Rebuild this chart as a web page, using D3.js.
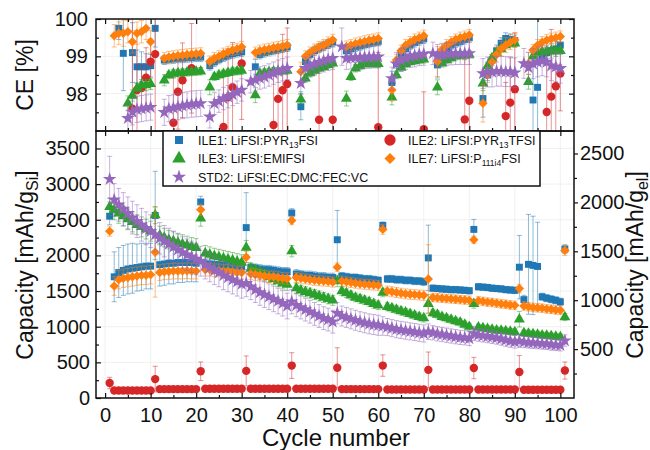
<!DOCTYPE html>
<html>
<head>
<meta charset="utf-8">
<script src="https://cdn.jsdelivr.net/npm/d3@7"></script>
<style>
  body { margin: 0; background: #fff; }
  text { font-family: "Liberation Sans", Arial, sans-serif; fill: #111; }
</style>
</head>
<body>
<svg id="chart" width="650" height="450"></svg>
<script>
// ---------- data: cycles 1..101 ----------
const cycles = d3.range(1, 102);

// Specific capacity, mAh per g of Si (left axis)
const capILE1 = [
  2550,1700,1760,1790,1810,1820,1830,1840,1850,1850,
  2560,1870,1880,1890,1890,1900,1900,1900,1900,1890,
  2750,1880,1880,1870,1870,1860,1860,1850,1850,1840,
  2390,1830,1820,1810,1800,1800,1790,1780,1770,1770,
  2595,1740,1730,1720,1720,1710,1700,1700,1690,1690,
  2220,1710,1700,1690,1690,1680,1670,1670,1660,1650,
  2420,1670,1670,1660,1660,1650,1650,1640,1640,1630,
  1965,1540,1535,1530,1525,1520,1520,1515,1510,1505,
  2365,1560,1555,1550,1540,1535,1530,1520,1515,1510,
  1835,1380,1875,1860,1845,1420,1400,1385,1370,1350,
  2090];
const capErrILE1 = [
  120,350,350,350,350,350,330,330,320,320,
  620,300,300,290,290,280,280,270,270,260,
  80,70,70,70,70,70,70,70,70,70,
  490,60,60,60,60,60,60,60,60,60,
  60,60,60,60,60,60,60,60,60,60,
  410,50,50,50,50,50,50,50,50,50,
  50,50,50,50,50,50,50,50,50,50,
  460,45,45,45,45,45,45,45,45,45,
  140,45,45,45,45,45,45,45,45,45,
  445,60,700,690,620,50,50,50,50,50,
  60];

const capILE2 = [
  210,105,105,105,105,105,105,105,105,105,
  265,125,125,125,125,125,125,125,125,125,
  375,130,130,130,130,130,130,130,130,130,
  380,130,130,130,130,130,130,130,130,130,
  455,130,130,130,130,130,130,130,130,130,
  425,125,125,125,125,125,125,125,125,125,
  455,120,120,120,120,120,120,120,120,120,
  395,120,120,120,120,120,120,120,120,120,
  420,120,120,120,120,120,120,120,120,120,
  365,115,115,115,115,115,115,115,115,115,
  385];
const capErrILE2 = [
  80,10,10,10,10,10,10,10,10,10,
  180,10,10,10,10,10,10,10,10,10,
  130,10,10,10,10,10,10,10,10,10,
  210,10,10,10,10,10,10,10,10,10,
  180,10,10,10,10,10,10,10,10,10,
  280,10,10,10,10,10,10,10,10,10,
  150,10,10,10,10,10,10,10,10,10,
  250,10,10,10,10,10,10,10,10,10,
  150,10,10,10,10,10,10,10,10,10,
  230,10,10,10,10,10,10,10,10,10,
  120];

const capILE3 = [
  2680,2640,2590,2550,2510,2470,2430,2400,2370,2340,
  2565,2280,2250,2220,2200,2180,2160,2140,2120,2105,
  2520,2030,2010,1990,1975,1960,1945,1930,1915,1900,
  2110,1815,1790,1760,1730,1700,1670,1640,1610,1590,
  2060,1540,1510,1490,1470,1450,1430,1410,1390,1370,
  1640,1500,1470,1440,1410,1390,1370,1350,1320,1300,
  1480,1280,1260,1240,1220,1200,1180,1160,1140,1120,
  1320,1190,1170,1140,1120,1100,1080,1060,1030,1000,
  1320,990,980,970,960,950,945,940,930,925,
  1105,910,905,895,890,880,875,870,860,855,
  1135];
const capErrILE3 = [
  120,140,140,140,140,140,140,140,140,140,
  120,130,130,130,130,130,130,130,130,130,
  110,110,110,110,110,110,110,110,110,110,
  100,80,80,80,80,80,80,80,80,80,
  80,70,70,70,70,70,70,70,70,70,
  80,60,60,60,60,60,60,60,60,60,
  60,55,55,55,55,55,55,55,55,55,
  130,50,50,50,50,50,50,50,50,50,
  60,45,45,45,45,45,45,45,45,45,
  110,45,45,45,45,45,45,45,45,45,
  50];

const capILE7 = [
  2340,1570,1660,1680,1690,1700,1710,1720,1720,1730,
  2045,1760,1770,1775,1780,1780,1780,1785,1780,1780,
  2640,1800,1800,1790,1790,1780,1780,1770,1760,1760,
  1975,1740,1730,1720,1710,1700,1700,1690,1680,1675,
  2490,1690,1680,1670,1660,1650,1645,1640,1635,1625,
  1835,1640,1630,1620,1610,1600,1595,1590,1585,1580,
  2365,1500,1490,1480,1470,1460,1455,1450,1445,1440,
  1670,1410,1405,1400,1395,1390,1385,1380,1375,1370,
  2220,1365,1355,1345,1340,1330,1320,1315,1305,1300,
  1535,1290,1280,1270,1265,1260,1250,1245,1235,1230,
  2070];
const capErrILE7 = [
  70,130,130,130,130,130,130,130,130,130,
  630,110,110,110,110,110,110,110,110,110,
  80,90,90,90,90,90,90,90,90,90,
  80,80,80,80,80,80,80,80,80,80,
  60,70,70,70,70,70,70,70,70,70,
  60,70,70,70,70,70,70,70,70,70,
  70,70,70,70,70,70,70,70,70,70,
  480,60,60,60,60,60,60,60,60,60,
  50,60,60,60,60,60,60,60,60,60,
  60,60,60,60,60,60,60,60,60,60,
  70];

const capSTD2 = [
  3070,2780,2710,2650,2590,2530,2480,2430,2380,2340,
  2290,2240,2200,2160,2120,2080,2040,2010,1980,1950,
  1920,1870,1830,1790,1760,1720,1690,1660,1630,1600,
  1610,1560,1520,1480,1450,1420,1390,1360,1330,1290,
  1350,1300,1270,1240,1210,1180,1150,1120,1100,1070,
  1190,1150,1130,1110,1090,1070,1055,1040,1030,1020,
  1010,995,980,965,955,945,935,925,915,905,
  930,915,900,890,880,870,860,850,845,835,
  905,885,875,865,855,845,830,815,800,790,
  800,785,780,775,770,765,760,750,745,740,
  805];
const capErrSTD2 = [
  320,230,230,230,230,230,230,230,230,230,
  230,220,220,220,220,220,220,220,220,220,
  210,200,200,200,200,200,200,200,200,200,
  190,180,180,180,180,180,180,180,180,180,
  170,160,160,160,160,160,160,160,160,160,
  150,140,140,140,140,140,140,140,140,140,
  130,120,120,120,120,120,120,120,120,120,
  110,100,100,100,100,100,100,100,100,100,
  100,90,90,90,90,90,90,90,90,90,
  90,80,80,80,80,80,80,80,80,80,
  80];

// Coulombic efficiency, % (null = outside the shown range)
const ceILE1 = [
  null,null,99.75,99.08,null,99.1,98.72,98.72,98.72,98.75,
  99.75,null,98.9,98.92,98.93,98.95,98.95,98.96,98.97,98.98,
  98.98,null,98.75,98.85,98.92,98.98,99.03,99.07,99.1,99.12,
  null,null,98.72,99.05,99.1,99.13,99.16,99.19,99.22,99.25,
  null,null,97.65,98.86,99.05,99.15,99.22,99.28,99.33,99.38,
  null,null,99.15,99.2,99.25,99.28,99.32,99.35,99.38,99.4,
  null,null,98.3,98.8,99.05,99.2,99.3,99.37,99.42,99.47,
  null,null,98.77,99.05,99.2,99.3,99.36,99.4,99.45,99.5,
  null,null,97.87,98.5,98.9,99.15,99.35,99.48,99.45,99.42,
  null,null,null,97.83,98.17,99.0,99.1,99.15,99.2,99.3,
  null];
const ceErrILE1 = [
  null,null,0.3,1.0,null,0.8,0.45,0.4,0.35,0.3,
  0.5,null,0.12,0.12,0.12,0.12,0.12,0.12,0.12,0.12,
  0.12,null,0.12,0.12,0.12,0.12,0.12,0.12,0.12,0.12,
  null,null,0.2,0.12,0.12,0.12,0.12,0.12,0.12,0.12,
  null,null,0.35,0.12,0.12,0.12,0.12,0.12,0.12,0.12,
  null,null,0.12,0.12,0.12,0.12,0.12,0.12,0.12,0.12,
  null,null,0.3,0.12,0.12,0.12,0.12,0.12,0.12,0.12,
  null,null,0.35,0.12,0.12,0.12,0.12,0.12,0.12,0.12,
  null,null,0.5,0.15,0.15,0.15,0.15,0.15,0.15,0.15,
  null,null,null,0.9,2.0,0.2,0.2,0.2,0.2,0.2,
  null];

const ceILE2 = [
  null,null,null,null,null,97.6,98.1,98.15,98.43,98.86,
  99.06,null,null,null,97.22,98.05,98.36,null,98.68,null,
  null,null,null,null,null,97.11,97.9,98.17,null,98.81,
  null,null,null,null,null,null,97.16,97.86,98.09,98.26,
  null,null,null,null,null,null,97.3,null,null,97.3,
  null,null,null,null,null,null,null,null,null,97.1,
  null,null,null,null,null,null,null,null,null,97.05,
  null,null,null,null,null,null,null,null,97.31,97.81,
  null,null,null,null,null,null,null,97.4,97.76,98.12,
  null,null,null,null,null,null,97.51,97.92,98.2,98.54,
  null];
const ceErrILE2 = [
  null,null,null,null,null,3,1.5,0.6,0.8,0.6,
  3,null,null,null,1.2,1.0,1.0,null,1.2,null,
  null,null,null,null,null,1.5,1.3,1.2,null,1.5,
  null,null,null,null,null,null,1.5,1.3,1.5,1.5,
  null,null,null,null,null,null,1.3,null,null,1.5,
  null,null,null,null,null,null,null,null,null,2,
  null,null,null,null,null,null,null,null,null,1,
  null,null,null,null,null,null,null,null,1.6,1.8,
  null,null,null,null,null,null,null,0.9,1.2,1.5,
  null,null,null,null,null,null,1.5,1.8,1.3,1.0,
  null];

const ceILE3 = [
  null,null,null,null,97.74,97.95,98.14,98.23,98.23,98.26,
  null,null,98.36,98.5,98.54,98.55,98.56,98.57,98.58,98.59,
  98.6,null,98.17,98.45,98.5,98.53,98.56,98.59,98.6,98.62,
  null,null,97.96,98.54,98.56,98.58,98.6,98.6,98.61,98.62,
  null,null,97.85,98.41,98.55,98.62,98.68,98.72,98.77,98.81,
  null,null,97.87,98.45,98.68,98.74,98.8,98.8,98.8,98.8,
  null,null,97.9,98.5,98.7,98.8,98.85,98.88,98.9,98.92,
  null,null,98.17,98.81,98.9,98.95,99.0,99.03,99.03,99.05,
  null,null,98.28,98.74,98.95,99.1,99.2,99.3,99.35,99.35,
  null,null,98.32,99.0,99.1,99.12,99.13,99.14,99.15,99.15,
  null];
const ceErrILE3 = [
  null,null,null,null,0.2,0.15,0.15,0.15,0.15,0.15,
  null,null,0.15,0.1,0.1,0.1,0.1,0.1,0.1,0.1,
  0.1,null,0.2,0.1,0.1,0.1,0.1,0.1,0.1,0.1,
  null,null,0.2,0.1,0.1,0.1,0.1,0.1,0.1,0.1,
  null,null,0.2,0.1,0.1,0.1,0.1,0.1,0.1,0.1,
  null,null,0.2,0.1,0.1,0.1,0.1,0.1,0.1,0.1,
  null,null,0.2,0.1,0.1,0.1,0.1,0.1,0.1,0.1,
  null,null,0.2,0.1,0.1,0.1,0.1,0.1,0.1,0.1,
  null,null,0.2,0.1,0.1,0.1,0.1,0.1,0.1,0.1,
  null,null,0.2,0.1,0.1,0.1,0.1,0.1,0.1,0.1,
  null];

const ceILE7 = [
  null,99.55,99.62,99.62,99.66,99.39,99.62,99.66,99.75,99.39,
  null,null,98.95,98.98,99.0,99.02,99.03,99.05,99.06,99.07,
  99.08,null,98.86,98.95,99.0,99.07,99.12,99.17,99.2,99.25,
  null,null,99.1,99.15,99.18,99.2,99.23,99.25,99.27,99.3,
  null,null,98.59,99.0,99.1,99.18,99.25,99.3,99.37,99.44,
  null,null,99.26,99.3,99.34,99.37,99.4,99.43,99.45,99.48,
  null,null,98.1,98.9,99.15,99.3,99.38,99.45,99.5,99.55,
  null,null,98.86,99.18,99.3,99.38,99.45,99.5,99.53,99.57,
  null,null,97.74,98.5,98.85,99.05,99.2,99.3,99.38,99.44,
  null,null,98.81,99.17,99.3,99.38,99.43,99.47,99.5,99.53,
  null];
const ceErrILE7 = [
  null,0.3,0.3,0.35,0.3,0.3,0.3,0.3,0.3,0.3,
  null,null,0.15,0.15,0.15,0.15,0.15,0.15,0.15,0.15,
  0.15,null,0.15,0.15,0.15,0.15,0.15,0.15,0.15,0.15,
  null,null,0.15,0.15,0.15,0.15,0.15,0.15,0.15,0.15,
  null,null,0.25,0.15,0.15,0.15,0.15,0.15,0.15,0.15,
  null,null,0.15,0.15,0.15,0.15,0.15,0.15,0.15,0.15,
  null,null,0.3,0.15,0.15,0.15,0.15,0.15,0.15,0.15,
  null,null,0.4,0.15,0.15,0.15,0.15,0.15,0.15,0.15,
  null,null,0.5,0.2,0.2,0.2,0.2,0.2,0.2,0.2,
  null,null,0.3,0.15,0.15,0.15,0.15,0.15,0.15,0.15,
  null];

const ceSTD2 = [
  null,null,null,null,97.34,97.51,97.58,97.6,97.62,97.64,
  null,null,97.5,97.6,97.62,97.65,97.68,97.7,97.72,97.73,
  97.74,null,97.38,97.74,97.8,97.87,97.92,97.98,98.04,98.1,
  null,98.32,98.37,98.42,98.45,98.5,98.55,98.6,98.64,98.68,
  null,null,98.28,98.68,98.75,98.8,98.84,98.88,98.92,98.95,
  null,99.26,98.95,98.96,98.97,98.97,98.98,98.98,98.99,98.99,
  null,null,98.41,98.8,98.9,98.95,99.0,99.02,99.05,99.06,
  null,99.08,99.02,99.05,99.06,99.07,99.08,99.08,99.08,99.08,
  null,null,98.54,98.58,98.58,98.6,98.6,98.59,98.59,98.56,
  null,98.81,98.7,98.8,98.85,98.88,98.85,98.75,98.72,98.68,
  null];
const ceErrSTD2 = [
  null,null,null,null,0.35,0.35,0.35,0.35,0.35,0.35,
  null,null,0.35,0.35,0.35,0.35,0.35,0.35,0.35,0.35,
  0.35,null,0.3,0.3,0.3,0.3,0.3,0.3,0.3,0.3,
  null,0.3,0.3,0.3,0.3,0.3,0.3,0.3,0.3,0.3,
  null,null,0.3,0.3,0.3,0.3,0.3,0.3,0.3,0.3,
  null,0.5,0.3,0.3,0.3,0.3,0.3,0.3,0.3,0.3,
  null,null,0.3,0.3,0.3,0.3,0.3,0.3,0.3,0.3,
  null,0.3,0.3,0.3,0.3,0.3,0.3,0.3,0.3,0.3,
  null,null,0.4,0.4,0.4,0.4,0.4,0.4,0.4,0.4,
  null,0.4,0.4,0.4,0.4,0.4,0.4,0.4,0.4,0.4,
  null];

// Axis ticks
const xTicks = d3.range(0, 101, 10);
const xMinorTicks = d3.range(5, 100, 10);
const ceTicks = [98, 99, 100];
const ceMinorTicks = [97.5, 98.5, 99.5];
const capTicks = [0, 500, 1000, 1500, 2000, 2500, 3000, 3500];
const capMinorTicks = [250, 750, 1250, 1750, 2250, 2750, 3250];
const capElTicks = [500, 1000, 1500, 2000, 2500];
const capElMinorTicks = [250, 750, 1250, 1750, 2250];

// Legend text (segments: [text, isSubscript])
const legendLabels = {
  ILE1: [["ILE1: LiFSI:PYR", 0], ["13", 1], ["FSI", 0]],
  ILE2: [["ILE2: LiFSI:PYR", 0], ["13", 1], ["TFSI", 0]],
  ILE3: [["ILE3: LiFSI:EMIFSI", 0]],
  ILE7: [["ILE7: LiFSI:P", 0], ["111i4", 1], ["FSI", 0]],
  STD2: [["STD2: LiFSI:EC:DMC:FEC:VC", 0]]
};

const series = [
  { key: "ILE1", color: "#1f77b4", shape: "square",   cap: capILE1, capErr: capErrILE1, ce: ceILE1, ceErr: ceErrILE1, leg: [0, 0] },
  { key: "ILE2", color: "#d62728", shape: "circle",   cap: capILE2, capErr: capErrILE2, ce: ceILE2, ceErr: ceErrILE2, leg: [1, 0] },
  { key: "ILE3", color: "#2ca02c", shape: "triangle", cap: capILE3, capErr: capErrILE3, ce: ceILE3, ceErr: ceErrILE3, leg: [0, 1] },
  { key: "ILE7", color: "#ff7f0e", shape: "diamond",  cap: capILE7, capErr: capErrILE7, ce: ceILE7, ceErr: ceErrILE7, leg: [1, 1] },
  { key: "STD2", color: "#9467bd", shape: "star",     cap: capSTD2, capErr: capErrSTD2, ce: ceSTD2, ceErr: ceErrSTD2, leg: [0, 2] }
];

// ---------- layout ----------
const L = 96, R = 574, ceTop = 19, mid = 131, bot = 398;
const svg = d3.select("#chart");
svg.append("rect").attr("width", 650).attr("height", 450).attr("fill", "#fff");

const x = d3.scaleLinear().domain([-2, 103]).range([L, R]);
const yCE = d3.scaleLinear().domain([97, 100]).range([mid, ceTop]);
const yCap = d3.scaleLinear().domain([0, 3745]).range([bot, mid]);
const yCapEl = d3.scaleLinear().domain([0, 2730]).range([bot, mid]);

const defs = svg.append("defs");
defs.append("clipPath").attr("id", "clipCE").append("rect")
  .attr("x", L).attr("y", ceTop).attr("width", R - L).attr("height", mid - ceTop);
defs.append("clipPath").attr("id", "clipCap").append("rect")
  .attr("x", L).attr("y", mid).attr("width", R - L).attr("height", bot - mid);

// faint grid
const grid = svg.append("g").attr("stroke", "#ececec").attr("stroke-width", 0.8);
xTicks.forEach(t => {
  grid.append("line").attr("x1", x(t)).attr("x2", x(t)).attr("y1", mid).attr("y2", bot);
  grid.append("line").attr("x1", x(t)).attr("x2", x(t)).attr("y1", ceTop).attr("y2", mid);
});
capTicks.forEach(t => grid.append("line").attr("x1", L).attr("x2", R).attr("y1", yCap(t)).attr("y2", yCap(t)));
ceTicks.forEach(t => grid.append("line").attr("x1", L).attr("x2", R).attr("y1", yCE(t)).attr("y2", yCE(t)));

const symbolTypes = { square: d3.symbolSquare, circle: d3.symbolCircle, triangle: d3.symbolTriangle, diamond: d3.symbolSquare, star: d3.symbolStar };
const markSizes = { square: 48, circle: 55, triangle: 52, diamond: 44, star: 58 };
const legendSizes = { square: 64, circle: 100, triangle: 80, diamond: 62, star: 62 };
function symPath(shape, sizes) {
  return d3.symbol(symbolTypes[shape], sizes[shape])();
}
function symTransform(shape, px, py) {
  return `translate(${px},${py})` + (shape === "diamond" ? " rotate(45)" : "");
}

function drawSeries(g, s, vals, errs, yScale) {
  const pts = cycles.map((c, i) => ({ c, v: vals[i], e: errs[i] })).filter(d => d.v != null);
  const eb = g.append("g").attr("stroke", s.color).attr("stroke-opacity", 0.5).attr("stroke-width", 1);
  pts.filter(d => d.e).forEach(d => {
    const px = x(d.c), y1 = yScale(d.v - d.e), y2 = yScale(d.v + d.e);
    eb.append("line").attr("x1", px).attr("x2", px).attr("y1", y1).attr("y2", y2);
    eb.append("line").attr("x1", px - 2.5).attr("x2", px + 2.5).attr("y1", y1).attr("y2", y1);
    eb.append("line").attr("x1", px - 2.5).attr("x2", px + 2.5).attr("y1", y2).attr("y2", y2);
  });
  g.append("g").selectAll("path").data(pts).join("path")
    .attr("d", symPath(s.shape, markSizes))
    .attr("transform", d => symTransform(s.shape, x(d.c), yScale(d.v)))
    .attr("fill", s.color);
}

const gCE = svg.append("g").attr("clip-path", "url(#clipCE)");
const gCap = svg.append("g").attr("clip-path", "url(#clipCap)");
series.forEach(s => {
  drawSeries(gCE, s, s.ce, s.ceErr, yCE);
  drawSeries(gCap, s, s.cap, s.capErr, yCap);
});

// ---------- axes ----------
function styleAxis(g) {
  g.select(".domain").remove();
  g.selectAll("line").attr("stroke", "#111").attr("stroke-width", 1.2);
  g.selectAll("text").attr("font-size", 20).attr("font-family", "'Liberation Sans', Arial, sans-serif").attr("fill", "#111");
}
function addAxis(axis, tx, ty) {
  const g = svg.append("g").attr("transform", `translate(${tx},${ty})`).call(axis);
  styleAxis(g);
  return g;
}
const noLabel = () => "";

// CE panel
addAxis(d3.axisLeft(yCE).tickValues(ceTicks).tickSize(-5).tickPadding(8).tickFormat(d3.format("d")), L, 0);
addAxis(d3.axisLeft(yCE).tickValues(ceMinorTicks).tickSize(-3).tickFormat(noLabel), L, 0);
addAxis(d3.axisRight(yCE).tickValues(ceTicks).tickSize(-5).tickFormat(noLabel), R, 0);
addAxis(d3.axisRight(yCE).tickValues(ceMinorTicks).tickSize(-3).tickFormat(noLabel), R, 0);
addAxis(d3.axisTop(x).tickValues(xTicks).tickSize(-5).tickFormat(noLabel), 0, ceTop);
addAxis(d3.axisTop(x).tickValues(xMinorTicks).tickSize(-3).tickFormat(noLabel), 0, ceTop);
addAxis(d3.axisBottom(x).tickValues(xTicks).tickSize(-5).tickFormat(noLabel), 0, mid);
addAxis(d3.axisBottom(x).tickValues(xMinorTicks).tickSize(-3).tickFormat(noLabel), 0, mid);

// Capacity panel
addAxis(d3.axisTop(x).tickValues(xTicks).tickSize(-5).tickFormat(noLabel), 0, mid);
addAxis(d3.axisTop(x).tickValues(xMinorTicks).tickSize(-3).tickFormat(noLabel), 0, mid);
addAxis(d3.axisLeft(yCap).tickValues(capTicks).tickSize(-5).tickPadding(6).tickFormat(d3.format("d")), L, 0);
addAxis(d3.axisLeft(yCap).tickValues(capMinorTicks).tickSize(-3).tickFormat(noLabel), L, 0);
addAxis(d3.axisRight(yCapEl).tickValues(capElTicks).tickSize(4).tickPadding(2).tickFormat(d3.format("d")), R, 0);
addAxis(d3.axisRight(yCapEl).tickValues(capElMinorTicks).tickSize(3).tickFormat(noLabel), R, 0);
addAxis(d3.axisBottom(x).tickValues(xTicks).tickSize(-5).tickPadding(10).tickFormat(d3.format("d")), 0, bot);
addAxis(d3.axisBottom(x).tickValues(xMinorTicks).tickSize(-3).tickFormat(noLabel), 0, bot);

// panel frames
const frame = svg.append("g").attr("fill", "none").attr("stroke", "#111").attr("stroke-width", 1.5);
frame.append("rect").attr("x", L).attr("y", ceTop).attr("width", R - L).attr("height", mid - ceTop);
frame.append("rect").attr("x", L).attr("y", mid).attr("width", R - L).attr("height", bot - mid);

// ---------- legend ----------
const legX = 163, legY = 131, legW = 377, legH = 55;
const legColMarker = [179, 390], legColText = [198, 408], legRowY = [140, 158.5, 177];
const leg = svg.append("g");
leg.append("rect").attr("x", legX).attr("y", legY).attr("width", legW).attr("height", legH)
  .attr("fill", "#fff").attr("stroke", "#111").attr("stroke-width", 1.5);
series.forEach(s => {
  const [col, row] = s.leg;
  const cy = legRowY[row];
  leg.append("path").attr("d", symPath(s.shape, legendSizes))
    .attr("transform", symTransform(s.shape, legColMarker[col], cy)).attr("fill", s.color);
  const t = leg.append("text").attr("x", legColText[col]).attr("y", cy + 4.5).attr("font-size", 12.5).attr("fill", "#222");
  let shift = 0;
  legendLabels[s.key].forEach(([str, sub]) => {
    const dy = sub ? 3 - shift : -shift;
    t.append("tspan").attr("dy", dy).attr("font-size", sub ? 8.5 : 12.5).text(str);
    shift = sub ? 3 : 0;
  });
});

// ---------- axis titles ----------
function titleRot(cx, cy, parts) {
  const t = svg.append("text").attr("transform", `translate(${cx},${cy}) rotate(-90)`)
    .attr("text-anchor", "middle").attr("font-size", 23).attr("fill", "#111");
  let shift = 0;
  parts.forEach(([str, sub]) => {
    const dy = sub ? 5 - shift : -shift;
    t.append("tspan").attr("dy", dy).attr("font-size", sub ? 16 : 23).text(str);
    shift = sub ? 5 : 0;
  });
}
titleRot(33, 75, [["CE [%]", 0]]);
titleRot(33, 265, [["Capacity [mAh/g", 0], ["Si", 1], ["]", 0]]);
titleRot(643, 265, [["Capacity [mAh/g", 0], ["el", 1], ["]", 0]]);
svg.append("text").attr("x", 336).attr("y", 446).attr("text-anchor", "middle")
  .attr("font-size", 24).attr("fill", "#111").text("Cycle number");
</script>
</body>
</html>
